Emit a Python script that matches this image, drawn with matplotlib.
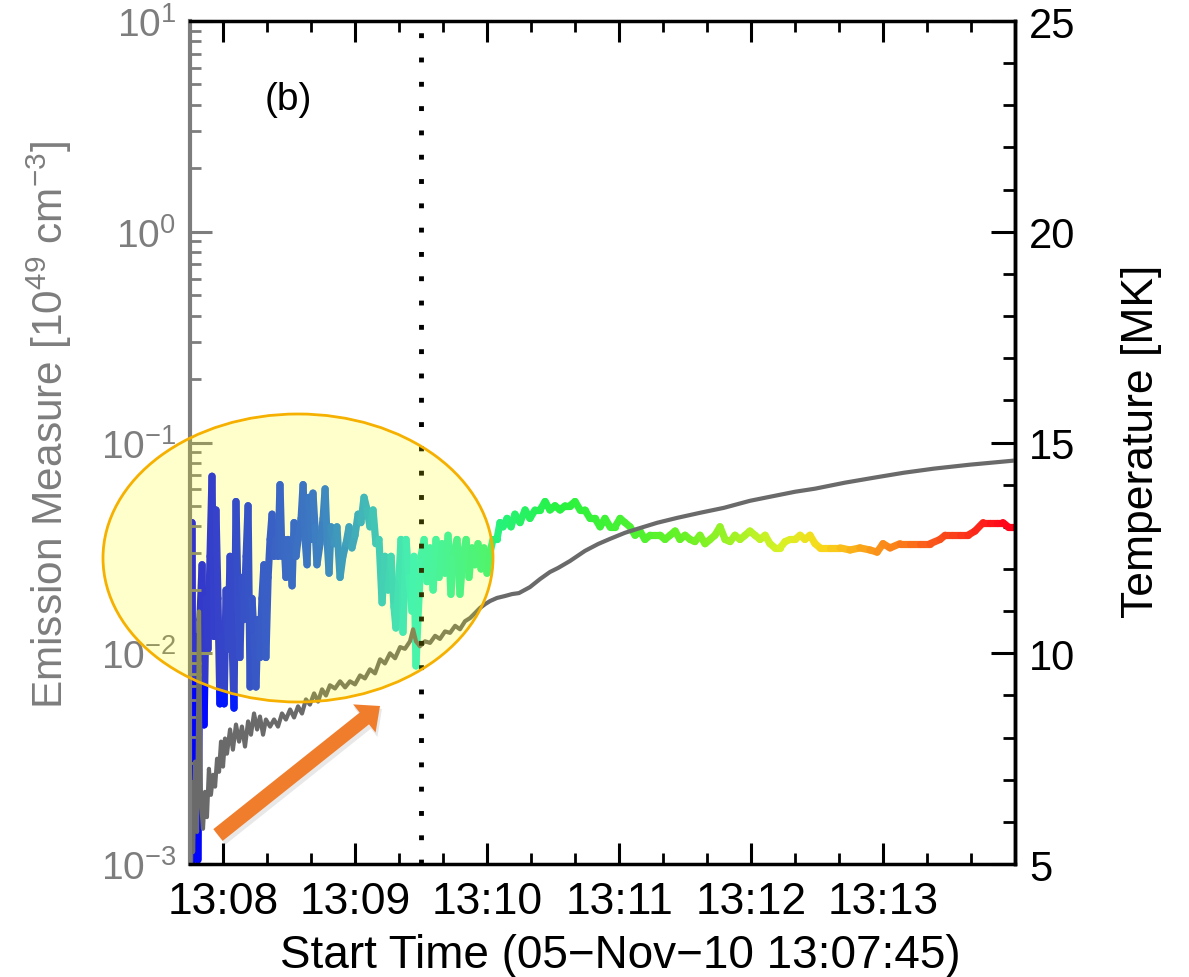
import numpy as np
import matplotlib
matplotlib.use('Agg')
import matplotlib.pyplot as plt
from matplotlib.collections import LineCollection
from matplotlib.colors import LinearSegmentedColormap, Normalize
from matplotlib.patches import Ellipse, FancyArrow
from matplotlib.transforms import IdentityTransform
from matplotlib.ticker import MultipleLocator, FixedLocator, LogLocator, NullFormatter

plt.rcParams['font.family'] = ['Liberation Sans', 'DejaVu Sans']
plt.rcParams['mathtext.fontset'] = 'custom'
plt.rcParams['mathtext.rm'] = 'Liberation Sans'
plt.rcParams['mathtext.it'] = 'Liberation Sans:italic'
plt.rcParams['mathtext.bf'] = 'Liberation Sans:bold'

# seconds after 13:07:45
t_range = [0, 375]
tick_sec = [15, 75, 135, 195, 255, 315]
tick_lbl = ['13:08', '13:09', '13:10', '13:11', '13:12', '13:13']
t_mark = 105

# emission measure [1e49 cm^-3]
em_time = [0.5, 0.9, 1.4, 2.3, 3.2, 4.1, 4.5, 5.0, 5.9, 6.8, 7.7, 8.6, 9.5, 10.5,
           11.4, 12.3, 13.2, 14.1, 15.0, 15.9, 16.8, 18.2, 19.5, 20.9, 22.3, 23.6,
           25.0, 26.4, 27.7, 29.1, 30.5, 31.8, 33.2, 34.5, 36.4, 38.2, 40.0, 41.8,
           43.6, 45.5, 47.3, 49.1, 50.9, 52.7, 54.5, 56.4, 58.2, 60.0, 61.8, 63.6,
           65.9, 68.2, 70.5, 72.7, 75.0, 77.3, 79.5, 81.8, 84.1, 86.4, 88.6, 90.9,
           93.2, 95.5, 97.7, 100.0, 101.4, 102.7, 104.5, 106.8, 109.1, 111.4, 113.6,
           115.9, 118.2, 120.5, 122.7, 125.0, 127.3, 129.5, 131.8, 134.1, 136.4,
           139.5, 143.2, 146.4, 149.5, 154.5, 159.1, 163.6, 167.3, 172.7, 179.5,
           185.5, 190.9, 197.7, 203.2, 212.3, 221.4, 231.8, 242.7, 254.5, 265.9,
           275.0, 284.1, 297.7, 310.9, 324.5, 338.2, 354.5, 374.1]
em_value = [1.02e-3, 2.45e-3, 1.14e-3, 3.06e-3, 1.42e-3, 1.58e-2, 5.9e-3, 1.97e-3,
            1.47e-3, 2.20e-3, 1.67e-3, 2.83e-3, 2.13e-3, 2.65e-3, 2.33e-3, 3.16e-3,
            2.74e-3, 3.81e-3, 2.90e-3, 3.94e-3, 3.34e-3, 4.35e-3, 3.49e-3, 4.59e-3,
            3.81e-3, 4.49e-3, 3.61e-3, 4.75e-3, 4.11e-3, 5.18e-3, 4.35e-3, 5.01e-3,
            4.11e-3, 4.85e-3, 4.49e-3, 4.85e-3, 4.49e-3, 5.18e-3, 4.85e-3, 5.41e-3,
            4.96e-3, 5.60e-3, 5.18e-3, 6.04e-3, 5.71e-3, 6.45e-3, 5.9e-3, 6.74e-3,
            6.31e-3, 7.05e-3, 6.81e-3, 7.36e-3, 6.89e-3, 7.36e-3, 7.12e-3, 7.85e-3,
            7.60e-3, 8.39e-3, 8.03e-3, 9.36e-3, 8.95e-3, 1.00e-2, 9.47e-3, 1.07e-2,
            1.05e-2, 1.14e-2, 1.30e-2, 1.14e-2, 1.08e-2, 1.14e-2, 1.12e-2, 1.21e-2,
            1.17e-2, 1.27e-2, 1.25e-2, 1.35e-2, 1.30e-2, 1.42e-2, 1.47e-2, 1.55e-2,
            1.64e-2, 1.71e-2, 1.77e-2, 1.83e-2, 1.87e-2, 1.91e-2, 1.93e-2, 2.06e-2,
            2.25e-2, 2.43e-2, 2.54e-2, 2.74e-2, 3.06e-2, 3.30e-2, 3.49e-2, 3.73e-2,
            3.89e-2, 4.16e-2, 4.39e-2, 4.64e-2, 4.90e-2, 5.29e-2, 5.59e-2, 5.84e-2,
            6.04e-2, 6.45e-2, 6.81e-2, 7.19e-2, 7.52e-2, 7.85e-2, 8.20e-2]

# temperature [MK]
temp_time = [0.5, 0.9, 1.4, 2.3, 3.2, 3.6, 4.5, 5.5, 6.4, 7.3, 8.2, 9.1, 10.0, 10.9,
             11.8, 12.7, 13.6, 14.5, 15.5, 16.4, 17.3, 18.2, 19.1, 20.0, 20.9, 21.8,
             22.7, 23.6, 24.5, 25.5, 26.4, 27.3, 28.2, 29.1, 30.0, 30.9, 31.8, 32.7,
             33.6, 34.5, 35.5, 36.4, 37.3, 38.2, 39.1, 40.0, 40.9, 41.8, 42.7, 43.6,
             44.5, 45.5, 46.4, 47.3, 48.2, 49.1, 50.5, 51.4, 52.3, 53.2, 54.1, 55.0,
             55.9, 56.8, 57.7, 59.1, 60.5, 61.4, 62.3, 63.2, 64.1, 65.5, 66.8, 68.2,
             69.5, 70.9, 72.3, 73.6, 75.0, 76.4, 77.7, 79.1, 80.5, 81.8, 83.2, 84.5,
             85.9, 87.3, 88.6, 90.0, 91.4, 92.7, 93.6, 95.0, 95.9, 96.8, 98.2, 99.5,
             100.9, 101.8, 102.7, 103.6, 105.0, 106.4, 107.7, 109.1, 110.5, 111.8,
             113.2, 114.5, 115.9, 117.3, 118.6, 120.0, 121.4, 122.7, 124.1, 125.5,
             126.8, 128.2, 129.5, 130.9, 132.3, 133.6, 135.0, 136.4, 137.7, 139.5,
             140.9, 142.3, 144.1, 145.9, 147.7, 150.0, 152.3, 154.5, 156.8, 159.1,
             161.4, 163.6, 165.9, 168.2, 170.5, 172.7, 175.0, 177.3, 179.5, 181.8,
             184.1, 186.4, 188.6, 190.9, 193.2, 195.5, 197.7, 200.0, 202.3, 204.5,
             206.8, 209.1, 211.4, 213.6, 215.9, 218.2, 220.5, 222.7, 225.0, 227.3,
             229.5, 231.8, 234.1, 236.4, 238.6, 240.9, 243.2, 245.5, 247.7, 250.0,
             252.3, 254.5, 256.8, 259.1, 261.4, 263.6, 265.9, 268.2, 270.5, 272.7,
             275.0, 277.3, 279.5, 281.8, 284.1, 286.4, 290.9, 295.5, 300.0, 304.5,
             309.1, 312.3, 315.0, 318.2, 322.7, 327.3, 331.8, 336.4, 340.9, 343.2,
             346.4, 350.0, 353.6, 356.8, 360.5, 363.6, 366.8, 369.5, 371.8, 374.1]
temp_value = [5.1, 13.1, 5.1, 10.4, 8.9, 5.1, 10.8, 12.1, 8.3, 11.3, 10.1, 12.3, 14.2,
              10.4, 13.4, 11.3, 8.8, 10.4, 8.8, 11.5, 10.1, 12.3, 10.4, 8.7, 13.6, 11.3,
              9.9, 11.8, 10.8, 12.3, 13.5, 9.2, 11.3, 10.4, 9.2, 10.8, 9.9, 11.3, 12.1,
              9.9, 11.8, 12.7, 13.3, 12.3, 12.7, 12.3, 14.0, 12.3, 12.7, 11.8, 12.7,
              12.3, 11.6, 13.1, 12.3, 12.7, 13.2, 14.0, 12.7, 12.1, 13.7, 12.7, 13.8,
              13.0, 12.1, 12.6, 13.2, 13.9, 12.7, 11.9, 13.0, 12.6, 13.0, 11.8, 12.3,
              12.6, 13.0, 12.5, 12.8, 13.3, 13.1, 13.7, 13.4, 13.0, 13.4, 12.6, 12.7,
              11.2, 12.3, 11.5, 12.3, 11.1, 10.6, 11.8, 12.7, 10.5, 12.7, 11.8, 11.0,
              12.3, 9.7, 10.8, 12.3, 12.7, 11.7, 12.5, 11.5, 12.7, 11.8, 12.6, 11.9,
              12.8, 11.4, 12.4, 12.7, 11.4, 12.3, 12.7, 11.8, 12.5, 12.1, 12.6, 12.0,
              12.5, 11.9, 12.4, 12.7, 12.7, 13.1, 13.0, 13.2, 13.0, 13.3, 13.1, 13.4,
              13.2, 13.4, 13.4, 13.6, 13.4, 13.5, 13.4, 13.5, 13.5, 13.6, 13.4, 13.4,
              13.2, 13.2, 13.0, 13.2, 13.0, 13.0, 13.2, 13.1, 13.0, 12.8, 12.9, 12.7,
              12.8, 12.8, 12.8, 12.7, 12.8, 12.9, 12.7, 12.8, 12.7, 12.65, 12.8, 12.6,
              12.7, 12.8, 13.0, 12.7, 12.65, 12.8, 12.7, 12.8, 12.9, 12.8, 12.7, 12.8,
              12.6, 12.5, 12.5, 12.65, 12.7, 12.7, 12.8, 12.7, 12.8, 12.6, 12.5, 12.5,
              12.5, 12.45, 12.5, 12.45, 12.4, 12.6, 12.5, 12.6, 12.6, 12.6, 12.6, 12.7,
              12.8, 12.8, 12.8, 12.8, 12.9, 13.1, 13.1, 13.1, 13.1, 13.0, 13.0]

# colour along time, blue -> cyan -> green -> yellow -> red
cmap = LinearSegmentedColormap.from_list('flare', [
    (0.00, (0.0, 0.0, 1.0)),
    (0.15, (0.05, 0.35, 0.95)),
    (0.27, (0.1, 0.95, 0.85)),
    (0.37, (0.15, 0.95, 0.5)),
    (0.45, (0.15, 0.95, 0.25)),
    (0.60, (0.4, 0.95, 0.15)),
    (0.72, (0.85, 0.95, 0.15)),
    (0.77, (0.98, 0.85, 0.1)),
    (0.83, (0.98, 0.6, 0.1)),
    (0.93, (0.98, 0.25, 0.1)),
    (1.00, (1.0, 0.0, 0.1))])

gray = '#7d7d7d'

fig = plt.figure(figsize=(11.89, 9.78), dpi=100)
ax = fig.add_axes([0.1598, 0.1155, 0.6939, 0.862])
ax2 = ax.twinx()
ax.set_zorder(ax2.get_zorder() + 1)
ax.patch.set_visible(False)

# temperature, coloured by time
tt = np.asarray(temp_time)
tv = np.asarray(temp_value)
pts = np.column_stack([tt, tv]).reshape(-1, 1, 2)
segs = np.concatenate([pts[:-1], pts[1:]], axis=1)
lc = LineCollection(segs, cmap=cmap, norm=Normalize(*t_range),
                    linewidths=5.2, capstyle='round', joinstyle='round')
lc.set_array((tt[:-1] + tt[1:]) / 2)
ax2.add_collection(lc)
ax2.set_ylim(5, 25)

# emission measure
ax.semilogy(em_time, em_value, color='#6a6a6a', lw=3.0)
ax.set_ylim(1e-3, 1e1)
ax.set_xlim(*t_range)
ax.axvline(t_mark, color='black', lw=3.5, ls=(0, (1, 4)))

ax.set_xticks(tick_sec)
ax.set_xticklabels(tick_lbl)
ax.xaxis.set_minor_locator(FixedLocator(np.arange(-5, 376, 20)))
ax.yaxis.set_major_locator(LogLocator(base=10, numticks=10))
ax.yaxis.set_minor_locator(LogLocator(base=10, subs=np.arange(2, 10), numticks=20))
ax.yaxis.set_minor_formatter(NullFormatter())
ax2.yaxis.set_major_locator(MultipleLocator(5))
ax2.yaxis.set_minor_locator(MultipleLocator(1))

ax.tick_params(axis='x', which='both', direction='in', top=True, bottom=True,
               color='black', labelcolor='black', labelsize=32, pad=12)
ax.tick_params(axis='x', which='major', length=15, width=2.2)
ax.tick_params(axis='x', which='minor', length=8, width=2.0)
ax.tick_params(axis='y', which='both', direction='in', left=True, right=False,
               color=gray, labelcolor=gray, labelsize=28, pad=10)
ax.tick_params(axis='y', which='major', length=16, width=2.2)
ax.tick_params(axis='y', which='minor', length=8, width=2.0)
ax2.tick_params(axis='y', which='both', direction='in', labelsize=30, pad=10)
ax2.tick_params(axis='y', which='major', length=17, width=2.2)
ax2.tick_params(axis='y', which='minor', length=9, width=2.0)

for s in ['top', 'bottom', 'right']:
    ax.spines[s].set_color('black')
    ax.spines[s].set_linewidth(2.5)
ax.spines['left'].set_color(gray)
ax.spines['left'].set_linewidth(3)
ax2.spines['left'].set_visible(False)
ax2.spines['right'].set_linewidth(2.5)

ax.set_xlabel('Start Time (05\u2212Nov\u221210 13:07:45)', fontsize=33)
ax.xaxis.set_label_coords(0.521, -0.082)
ax.set_ylabel('Emission Measure [10$^{49}$ cm$^{-3}$]', fontsize=30.5, color=gray)
ax.yaxis.set_label_coords(-0.14, 0.522)
ax2.set_ylabel('Temperature [MK]', fontsize=32)
ax2.yaxis.set_label_coords(1.128, 0.502)

ax.text(0.119, 0.907, '(b)', transform=ax.transAxes, fontsize=28,
        ha='center', va='center')

# highlight ellipse and arrow (pixel coordinates)
fig.add_artist(Ellipse((298, 978 - 559), 390, 288, transform=IdentityTransform(),
                       facecolor=(1, 1, 0, 0.2), edgecolor='#f5b000', lw=2.0,
                       zorder=5))
fig.add_artist(FancyArrow(220, 978 - 839, 162, 129, width=17, head_width=38,
                          head_length=21, length_includes_head=True,
                          transform=IdentityTransform(), color='0.4', alpha=0.15,
                          lw=0, zorder=5.5))
fig.add_artist(FancyArrow(218, 978 - 836, 162, 129, width=15, head_width=36,
                          head_length=20, length_includes_head=True,
                          transform=IdentityTransform(), color='#f07d2c', lw=0,
                          zorder=6))

fig.savefig('out.png', dpi=100)
